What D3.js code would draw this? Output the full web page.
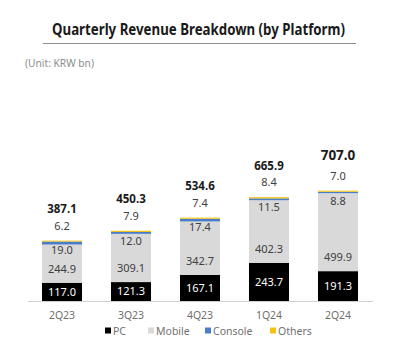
<!DOCTYPE html>
<html><head><meta charset="utf-8">
<script src="https://cdn.jsdelivr.net/npm/d3@7"></script>
<style>body{margin:0;background:#fff;} svg{display:block;font-family:"Noto Sans",sans-serif;}</style>
</head><body>
<svg id="c" width="393" height="358"></svg>
<script>
const quarters = ["2Q23","3Q23","4Q23","1Q24","2Q24"];
const pc      = [117.0, 121.3, 167.1, 243.7, 191.3];
const mobile  = [244.9, 309.1, 342.7, 402.3, 499.9];
const consoleV= [19.0, 12.0, 17.4, 11.5, 8.8];
const others  = [6.2, 7.9, 7.4, 8.4, 7.0];
const totals  = [387.1, 450.3, 534.6, 665.9, 707.0];
const seriesNames = ["PC","Mobile","Console","Others"];
const colors = ["#000000","#d9d9d9","#4a7cc7","#f2c314"];

const svg = d3.select("#c");
svg.append("text").attr("x",198.5).attr("y",35).attr("text-anchor","middle")
  .attr("font-size",15.5).attr("font-weight","bold").attr("fill","#1a1a1a")
  .attr("textLength",293).attr("lengthAdjust","spacingAndGlyphs")
  .text("Quarterly Revenue Breakdown (by Platform)");
svg.append("line").attr("x1",43).attr("x2",356).attr("y1",43.5).attr("y2",43.5)
  .attr("stroke","#8c8c8c").attr("stroke-width",1);
svg.append("text").attr("x",25).attr("y",67).attr("font-size",11).attr("fill","#8c8c8c")
  .attr("textLength",69).attr("lengthAdjust","spacingAndGlyphs")
  .text("(Unit: KRW bn)");

const x = d3.scaleBand().domain(quarters).range([27.5,372.5]).paddingInner(0.42).paddingOuter(0.21);
const y = d3.scaleLinear().domain([0,707]).range([301,190.7]);

const rows = quarters.map((q,i)=>({q, PC:pc[i], Mobile:mobile[i], Console:consoleV[i], Others:others[i]}));
const stack = d3.stack().keys(seriesNames)(rows);

const g = svg.append("g");
stack.forEach((s,si)=>{
  g.selectAll(null).data(s).enter().append("rect")
    .attr("x",d=>x(d.data.q)).attr("width",x.bandwidth())
    .attr("y",d=>y(d[1])).attr("height",d=>y(d[0])-y(d[1]))
    .attr("fill",colors[si]);
});

// axis
const ax = svg.append("g").attr("transform","translate(0,301)").call(d3.axisBottom(x).tickSize(0).tickPadding(11));
ax.select(".domain").attr("stroke","#d0d0d0");
ax.selectAll("text").attr("font-size",10.5).attr("fill","#707070").attr("font-family","Noto Sans");

// labels
rows.forEach((r,i)=>{
  const cx = x(r.q)+x.bandwidth()/2;
  const top = y(totals[i]);
  g.append("text").attr("x",cx).attr("y",(y(0)+y(pc[i]))/2).attr("dy","0.35em")
    .attr("text-anchor","middle").attr("font-size",11).attr("fill","#fff").text(pc[i].toFixed(1));
  g.append("text").attr("x",cx).attr("y",y(pc[i])-14).attr("dy","0.35em")
    .attr("text-anchor","middle").attr("font-size",11).attr("fill","#404040").text(mobile[i].toFixed(1));
  g.append("text").attr("x",cx).attr("y",top+10).attr("dy","0.35em")
    .attr("text-anchor","middle").attr("font-size",11).attr("fill","#404040").text(consoleV[i].toFixed(1));
  g.append("text").attr("x",cx).attr("y",top-14.5).attr("dy","0.35em")
    .attr("text-anchor","middle").attr("font-size",11).attr("fill","#404040").text(others[i].toFixed(1));
  const big = i===4;
  g.append("text").attr("x",cx).attr("y",top-(big?35.5:31.5)).attr("dy","0.35em")
    .attr("text-anchor","middle").attr("font-size",big?13.5:11.5).attr("font-weight","bold")
    .attr("fill","#1a1a1a").text(totals[i].toFixed(1));
});

// legend
const legX = [105,148,205,270];
seriesNames.forEach((n,i)=>{
  svg.append("rect").attr("x",legX[i]).attr("y",327.5).attr("width",6).attr("height",6).attr("fill",colors[i]);
  svg.append("text").attr("x",legX[i]+8).attr("y",331).attr("dy","0.35em")
    .attr("font-size",10.5).attr("fill","#707070").text(n);
});
</script>
</body></html>
